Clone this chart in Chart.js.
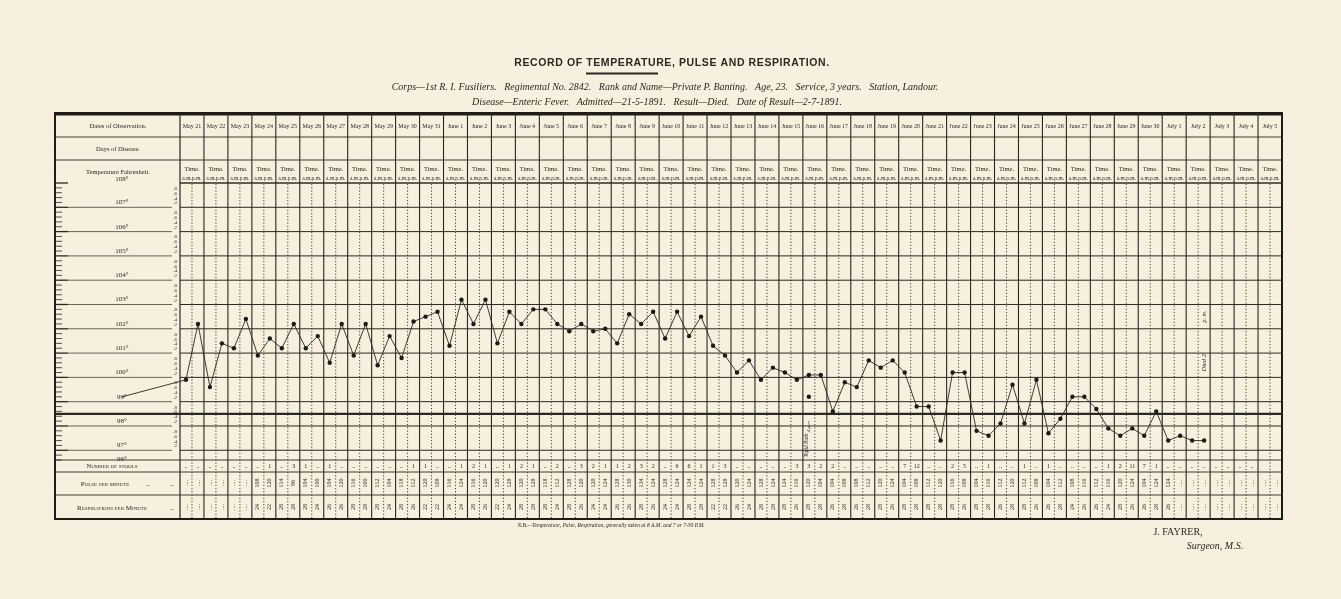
<!DOCTYPE html>
<html lang="en">
<head>
<meta charset="UTF-8">
<title>Record of Temperature, Pulse and Respiration</title>
<script src="https://cdn.jsdelivr.net/npm/chart.js"></script>
<style>
  html, body { margin: 0; padding: 0; background: #f7f0de; }
  canvas { display: block; }
</style>
</head>
<body>
<canvas id="chart" width="1341" height="599"></canvas>
<script>
// ---- data ----
const days = [
  'May 21','May 22','May 23','May 24','May 25','May 26','May 27','May 28','May 29','May 30','May 31',
  'June 1','June 2','June 3','June 4','June 5','June 6','June 7','June 8','June 9','June 10',
  'June 11','June 12','June 13','June 14','June 15','June 16','June 17','June 18','June 19','June 20',
  'June 21','June 22','June 23','June 24','June 25','June 26','June 27','June 28','June 29','June 30',
  'July 1','July 2','July 3','July 4','July 5'
];

const amTemp = [
  99.9, 99.6, 101.2, 100.9, 101.2, 101.2, 100.6, 100.9, 100.5, 100.8, 102.5,
  101.3, 102.2, 101.4, 102.2, 102.8, 101.9, 101.9, 101.4, 102.2, 101.6,
  101.7, 101.3, 100.2, 99.9, 100.2, 100.1, 98.6, 99.6, 100.4, 100.2,
  98.8, 100.2, 97.8, 98.1, 98.1, 97.7, 99.2, 98.7, 97.6, 97.6,
  97.4, 97.4, null, null, null
];
const pmTemp = [
  102.2, 101.4, 102.4, 101.6, 102.2, 101.7, 102.2, 102.2, 101.7, 102.3, 102.7,
  103.2, 103.2, 102.7, 102.8, 102.2, 102.2, 102.0, 102.6, 102.7, 102.7,
  102.5, 100.9, 100.7, 100.4, 99.9, 100.1, 99.8, 100.7, 100.7, 98.8,
  97.4, 100.2, 97.6, 99.7, 99.9, 98.3, 99.2, 97.9, 97.9, 98.6,
  97.6, 97.4, null, null, null
];
// reading taken after the bath on June 16 (not joined to the curve)
const bathTemp = { day: 'June 16', half: 0, value: 99.2 };
// reading before admission, drawn from the scale to the first point
const beforeAdmission = 99.2;

const degreeLabels = [108, 107, 106, 105, 104, 103, 102, 101, 100, 99, 98, 97, 96];
const fifthLabels = ['.8', '.6', '.4', '.2'];
const normalTemp = 98.4;

// per half-day (a.m., p.m.) entries of the lower rows
const stools = [
  '..','..', '..','..', '..','..', '..','1', '..','3', '1','..', '1','..', '..','..', '..','..', '..','1', '1','..',
  '..','1', '2','1', '..','1', '2','1', '..','2', '..','3', '2','1', '1','2', '3','2', '..','6',
  '6','1', '1','3', '..','..', '..','..', '..','3', '3','2', '2','..', '..','..', '..','..', '7','12',
  '..','..', '2','5', '..','1', '..','..', '1','..', '1','..', '..','..', '..','1', '2','11', '7','1',
  '..','..', '..','..', '..','..', '..','..'
];
const pulse = [
  null,null, null,null, null,null, 108,120, 114,96, 104,100, 104,120, 116,100, 112,104, 118,112, 120,108,
  116,124, 116,120, 120,128, 120,128, 118,112, 128,120, 120,124, 128,130, 134,124, 128,124,
  124,124, 128,128, 120,124, 128,124, 124,116, 120,104, 104,108, 108,112, 120,124, 104,108,
  112,120, 116,108, 104,116, 112,120, 112,108, 104,112, 108,116, 112,116, 120,124, 104,124,
  124,null, null,null, null,null, null,null
];
const respiration = [
  null,null, null,null, null,null, 24,22, 28,28, 28,24, 26,26, 28,28, 28,24, 28,26, 22,22,
  24,24, 28,26, 22,24, 28,28, 28,24, 28,26, 24,24, 26,26, 28,26, 24,24,
  28,28, 22,22, 26,24, 28,28, 28,26, 28,28, 26,28, 26,28, 28,26, 28,28,
  28,28, 28,26, 28,28, 26,28, 28,26, 26,28, 24,26, 26,24, 28,26, 26,28,
  26,null, null,null, null,null, null,null
];

// ---- build what Chart.js needs ----
const slots = days.flatMap(d => [d + ' a.m.', d + ' p.m.']);
const temperature = days.flatMap((d, i) => [amTemp[i], pmTemp[i]]);
const bathData = slots.map((s, i) => i === days.indexOf(bathTemp.day) * 2 + bathTemp.half ? bathTemp.value : null);

const ink = '#2b2723';
const paper = '#f7f0de';
const serif = '"Liberation Serif", "DejaVu Serif", serif';

function text(ctx, str, x, y, font, align) {
  ctx.font = font;
  ctx.textAlign = align || 'center';
  ctx.fillText(str, x, y);
}
function vtext(ctx, str, x, y, font) {
  ctx.save();
  ctx.translate(x, y);
  ctx.rotate(-Math.PI / 2);
  ctx.font = font;
  ctx.textAlign = 'center';
  ctx.textBaseline = 'middle';
  ctx.fillText(str, 0, 0);
  ctx.restore();
}
function hline(ctx, x1, x2, yy, w) {
  ctx.lineWidth = w || 1;
  ctx.beginPath(); ctx.moveTo(x1, yy); ctx.lineTo(x2, yy); ctx.stroke();
}
function vline(ctx, xx, y1, y2, w) {
  ctx.lineWidth = w || 1;
  ctx.beginPath(); ctx.moveTo(xx, y1); ctx.lineTo(xx, y2); ctx.stroke();
}

const sheet = {
  id: 'sheet',
  beforeDraw(chart) {
    const { ctx, chartArea: a, scales: { x, y } } = chart;
    const W = chart.width;
    const sw = (a.right - a.left) / slots.length;
    const tableLeft = 55, tableTop = 113, tableBottom = 519;
    const rowDates = 137, rowDays = 160, rowPulse = 472, rowResp = 495;

    ctx.save();
    ctx.fillStyle = paper;
    ctx.fillRect(0, 0, W, chart.height);
    ctx.fillStyle = ink;
    ctx.strokeStyle = ink;
    ctx.textBaseline = 'alphabetic';

    // headings
    ctx.save();
    ctx.font = 'bold 10.5px "Liberation Sans", Arial, sans-serif';
    ctx.letterSpacing = '0.6px';
    ctx.textAlign = 'center';
    ctx.fillText('RECORD OF TEMPERATURE, PULSE AND RESPIRATION.', 672, 66);
    ctx.restore();
    hline(ctx, 586, 658, 73.5, 2);
    text(ctx, 'Corps\u20141st R. I. Fusiliers.   Regimental No. 2842.   Rank and Name\u2014Private P. Banting.   Age, 23.   Service, 3 years.   Station, Landour.',
      665, 90, 'italic 10px ' + serif);
    text(ctx, 'Disease\u2014Enteric Fever.   Admitted\u201421-5-1891.   Result\u2014Died.   Date of Result\u20142-7-1891.',
      657, 105, 'italic 10px ' + serif);

    // table frame
    ctx.strokeStyle = '#1f1b18';
    ctx.lineWidth = 2;
    ctx.strokeRect(tableLeft, tableTop, a.right - tableLeft, tableBottom - tableTop);
    hline(ctx, tableLeft, a.right, tableTop + 1, 3);
    ctx.strokeStyle = ink;
    vline(ctx, a.left, tableTop, tableBottom, 1.2);
    hline(ctx, tableLeft, a.right, rowDates, 0.9);
    hline(ctx, tableLeft, a.right, rowDays, 0.9);
    hline(ctx, a.left, a.right, a.top, 0.9);
    hline(ctx, tableLeft, a.right, a.bottom, 0.9);
    hline(ctx, tableLeft, a.right, rowPulse, 0.9);
    hline(ctx, tableLeft, a.right, rowResp, 0.9);

    // left column labels
    ctx.fillStyle = ink;
    text(ctx, 'Dates of Observation.', 118, 128, '6.5px ' + serif);
    text(ctx, 'Days of Disease.', 118, 151, '6.5px ' + serif);
    text(ctx, 'Temperature Fahrenheit.', 118, 174, '6.5px ' + serif);
    degreeLabels.forEach(v => {
      const py = Math.min(y.getPixelForValue(v) - 3, a.bottom + 1);
      text(ctx, v + '\u00b0', 122, v === 108 ? 181 : py, '7px ' + serif);
    });
    for (let v = Math.ceil(y.min); v < y.max; v++) {
      fifthLabels.forEach((f, k) => {
        const py = y.getPixelForValue(v + 0.8 - k * 0.2);
        if (py > a.top && py < a.bottom) text(ctx, f, 177, py + 2, '5px ' + serif, 'right');
      });
    }
    // ruler on the far left
    for (let v = 96.6; v <= 108.01; v += 0.2) {
      const py = y.getPixelForValue(v);
      const whole = Math.abs(v - Math.round(v)) < 0.01;
      hline(ctx, tableLeft, tableLeft + (whole ? 13 : 7), py, whole ? 1.3 : 0.8);
    }
    // degree rules through the label column
    for (let v = 97; v <= 107; v++) {
      hline(ctx, tableLeft + 13, a.left - 8, y.getPixelForValue(v), 0.7);
    }
    ctx.save();
    ctx.font = 'small-caps 6.5px ' + serif;
    ctx.textAlign = 'center';
    ctx.fillText('Number of stools', 112, a.bottom + 8);
    ctx.font = 'small-caps 7px ' + serif;
    ctx.fillText('Pulse per minute', 105, 486);
    ctx.fillText('Respirations per Minute', 112, 510);
    ctx.fillText('..', 148, 486);
    ctx.fillText('..', 172, 486);
    ctx.fillText('..', 172, 510);
    ctx.restore();

    // temperature grid
    for (let v = 97; v <= 108; v++) {
      hline(ctx, a.left, a.right, y.getPixelForValue(v), 1);
    }
    hline(ctx, tableLeft, a.right, y.getPixelForValue(normalTemp + 0.1), 2.2);

    // day columns
    days.forEach((d, i) => {
      const left = a.left + i * 2 * sw;
      const mid = left + sw;
      if (i > 0) vline(ctx, left, tableTop, tableBottom, 1.1);
      ctx.save();
      ctx.setLineDash([1.2, 2]);
      vline(ctx, mid, a.top + 1, tableBottom, 0.9);
      ctx.restore();
      text(ctx, d, mid, 128, '6px ' + serif);
      text(ctx, 'Time.', mid, 171, '6.5px ' + serif);
      text(ctx, 'a.m.p.m.', mid, 180, '5.5px ' + serif);
    });

    // stools, pulse and respiration rows
    slots.forEach((s, i) => {
      const cx = x.getPixelForValue(i);
      if (stools[i]) text(ctx, stools[i], cx, a.bottom + 8, '6px ' + serif);
      vtext(ctx, pulse[i] != null ? String(pulse[i]) : '....', cx, 483, '6px ' + serif);
      vtext(ctx, respiration[i] != null ? String(respiration[i]) : '....', cx, 507, '6px ' + serif);
    });

    // footnote and signature
    text(ctx, 'N.B.\u2014Temperature, Pulse, Respiration, generally taken at 8 A.M. and 7 or 7-30 P.M.', 611, 527, 'italic 5.5px ' + serif);
    text(ctx, 'J. FAYRER,', 1178, 535, '10px ' + serif);
    text(ctx, 'Surgeon, M.S.', 1215, 549, 'italic 10px ' + serif);
    ctx.restore();
  },
  afterDatasetsDraw(chart) {
    const { ctx, chartArea: a, scales: { x, y } } = chart;
    ctx.save();
    ctx.strokeStyle = ink;
    ctx.fillStyle = ink;
    // line from the scale to the first reading
    ctx.lineWidth = 0.9;
    ctx.beginPath();
    ctx.moveTo(a.left - 58, y.getPixelForValue(beforeAdmission));
    ctx.lineTo(x.getPixelForValue(0), y.getPixelForValue(temperature[0]));
    ctx.stroke();
    // notes written on the chart
    const bathX = x.getPixelForValue(days.indexOf('June 16') * 2);
    vtext(ctx, '4 p.m.', bathX, y.getPixelForValue(98.0), 'italic 5px ' + serif);
    vtext(ctx, 'Tepid Bath', bathX - 2, y.getPixelForValue(97.2), 'italic 5.5px ' + serif);
    const diedX = x.getPixelForValue(days.indexOf('July 2') * 2 + 1);
    vtext(ctx, 'p. m.', diedX, y.getPixelForValue(102.5), 'italic 6px ' + serif);
    vtext(ctx, 'Died 2', diedX, y.getPixelForValue(100.6), 'italic 6.5px ' + serif);
    ctx.restore();
  }
};

new Chart(document.getElementById('chart'), {
  type: 'line',
  data: {
    labels: slots,
    datasets: [
      {
        label: 'Temperature',
        data: temperature,
        borderColor: '#2b2723',
        borderWidth: 0.9,
        pointRadius: 2.2,
        pointBackgroundColor: '#1d1a17',
        pointBorderWidth: 0,
        tension: 0,
        spanGaps: false
      },
      {
        label: 'After bath',
        data: bathData,
        showLine: false,
        pointRadius: 2.2,
        pointBackgroundColor: '#1d1a17',
        pointBorderWidth: 0
      }
    ]
  },
  options: {
    responsive: false,
    animation: false,
    layout: { padding: { left: 180, right: 59, top: 183, bottom: 139 } },
    plugins: { legend: { display: false }, tooltip: { enabled: false } },
    scales: {
      x: { display: false, offset: true },
      y: { display: false, min: 96.6, max: 108 }
    }
  },
  plugins: [sheet]
});
</script>
</body>
</html>
